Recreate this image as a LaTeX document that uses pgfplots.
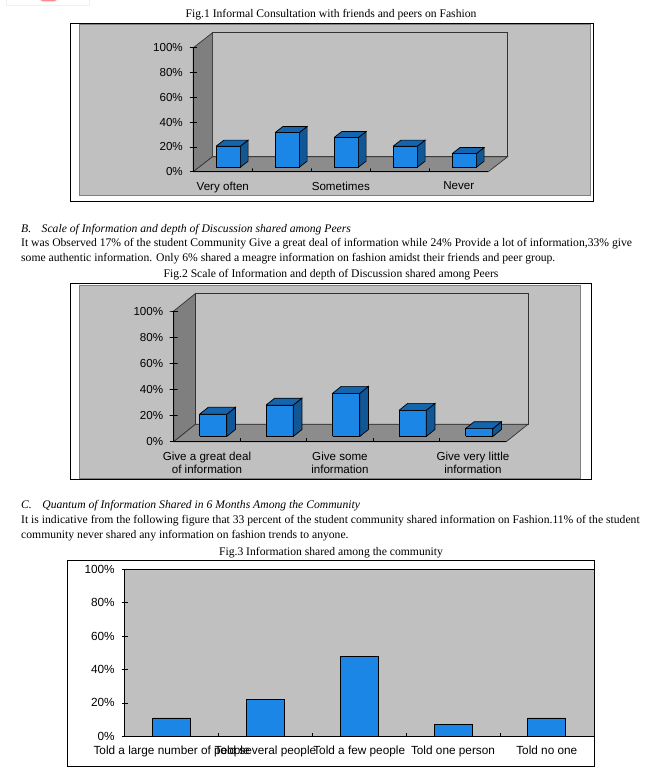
\documentclass[border=0pt]{standalone}
\usepackage{pgfplots}
\pgfplotsset{compat=1.18}
\usepackage{fontspec}
\setmainfont{Liberation Serif}
\newfontfamily\chartfont{Liberation Sans}
\definecolor{barfront}{HTML}{1C86E6}
\definecolor{bartop}{HTML}{1464AE}
\definecolor{barside}{HTML}{115695}
\definecolor{wallgrey}{HTML}{C0C0C0}
\definecolor{sidewall}{HTML}{7F7F7F}
\definecolor{floorgrey}{HTML}{8C8C8C}
\definecolor{framegrey}{HTML}{808080}

% one 3D column: x from #1 to #2, height #3
\newcommand{\column}[3]{
  \addplot3[draw=black, fill=barfront, line width=0.7pt] coordinates {(#1,0.3,0) (#2,0.3,0) (#2,0.3,#3) (#1,0.3,#3) (#1,0.3,0)};
  \addplot3[draw=black, fill=barside, line width=0.7pt] coordinates {(#2,0.3,0) (#2,0.7,0) (#2,0.7,#3) (#2,0.3,#3) (#2,0.3,0)};
  \addplot3[draw=black, fill=bartop, line width=0.7pt] coordinates {(#1,0.3,#3) (#2,0.3,#3) (#2,0.7,#3) (#1,0.7,#3) (#1,0.3,#3)};
}
% walls and floor of the 3D charts
\newcommand{\walls}{
  \addplot3[draw=black!80, fill=wallgrey, line width=0.7pt] coordinates {(0,1,0) (5,1,0) (5,1,100) (0,1,100) (0,1,0)};
  \addplot3[draw=black!80, fill=sidewall, line width=0.7pt] coordinates {(0,0,0) (0,1,0) (0,1,100) (0,0,100) (0,0,0)};
  \addplot3[draw=black!80, fill=floorgrey, line width=0.7pt] coordinates {(0,0,0) (5,0,0) (5,1,0) (0,1,0) (0,0,0)};
  % front edges with their tick marks (flat, in the picture plane)
  \addplot3[draw=black, line width=0.7pt] coordinates {(0,0,0) (1,0,0) (1,0,2.7) (1,0,0) (2,0,0) (2,0,2.7) (2,0,0) (3,0,0) (3,0,2.7) (3,0,0) (4,0,0) (4,0,2.7) (4,0,0) (5,0,0)};
  \addplot3[draw=black, line width=0.7pt] coordinates {(-0.06,0,0) (0.06,0,0) (0,0,0) (0,0,20) (-0.06,0,20) (0.06,0,20) (0,0,20) (0,0,40) (-0.06,0,40) (0.06,0,40) (0,0,40) (0,0,60) (-0.06,0,60) (0.06,0,60) (0,0,60) (0,0,80) (-0.06,0,80) (0.06,0,80) (0,0,80) (0,0,100) (-0.06,0,100) (0.06,0,100)};
}
\pgfplotsset{
  threed/.style={
    clip=false, anchor=origin,
    xmin=0, xmax=5, ymin=0, ymax=1, zmin=0, zmax=100,
    axis lines*=left,
    axis line style={draw=none},
    ytick=\empty,
    ztick={0,20,40,60,80,100},
    zticklabel={\pgfmathprintnumber{\tick}\%},
    major tick length=0bp,
    tick style={draw=none},
    /pgf/number format/assume math mode=true,
    tick label style={font=\chartfont\fontsize{11.6bp}{13.3bp}\selectfont},
    x tick label style={align=center, anchor=north, yshift=-6.5bp},
    z tick label style={anchor=east, xshift=-7bp},
  },
}
\newcommand{\para}[3]{\node[anchor=base west, inner sep=0pt] at (#1bp,-#2bp) {\fontsize{11.65bp}{12bp}\selectfont #3};}
\newcommand{\capt}[3]{\node[anchor=base, inner sep=0pt] at (#1bp,-#2bp) {\fontsize{11.65bp}{12bp}\selectfont #3};}

\begin{document}
\begin{tikzpicture}[x=1bp,y=1bp]
\useasboundingbox (0,0) rectangle (651,-773);

% logo remnant at the page top
\draw[black!6, line width=0.7pt] (6,0) -- (6,-5) -- (89,-5) -- (89,0);
\fill[red!45!white] (40,0) -- (57,0) -- (54,-1.5) -- (43,-1.5) -- cycle;

% chart frames
\draw[black, line width=0.8pt, fill=white] (70.5,-23.5) rectangle (593,-201.5);
\draw[framegrey, line width=0.8pt, fill=wallgrey] (79.5,-24) rectangle (590,-195);
\draw[black, line width=0.8pt, fill=white] (70.3,-283.3) rectangle (591.4,-479.3);
\draw[framegrey, line width=0.8pt, fill=wallgrey] (79.3,-285.3) rectangle (580,-478.7);
\draw[black, line width=0.8pt, fill=white] (67.7,-560.3) rectangle (594.8,-766.3);

% text
\capt{331}{17.5}{Fig.1 Informal Consultation with friends and peers on Fashion}
\para{21}{232}{\textit{B.\hspace{0.9em}Scale of Information and depth of Discussion shared among Peers}}
\para{21}{246}{It was Observed 17\% of the student Community Give a great deal of information while 24\% Provide a lot of information,33\% give}
\para{21}{261}{some authentic information. Only 6\% shared a meagre information on fashion amidst their friends and peer group.}
\capt{331}{277.5}{Fig.2 Scale of Information and depth of Discussion shared among Peers}
\para{21}{508}{\textit{C.\hspace{0.9em}Quantum of Information Shared in 6 Months Among the Community}}
\para{21}{523}{It is indicative from the following figure that 33 percent of the student community shared information on Fashion.11\% of the student}
\para{21}{538}{community never shared any information on fashion trends to anyone.}
\capt{331}{555}{Fig.3 Information shared among the community}

% Fig.1
\begin{axis}[threed, at={(193.3bp,-171.7bp)},
  x={(59bp,0bp)}, y={(19.3bp,15bp)}, z={(0bp,1.24bp)},
  xtick={0.5,2.5,4.5}, xticklabels={Very often,Sometimes,Never}]
  \walls
  \column{0.29}{0.70}{17}
  \column{1.29}{1.70}{28}
  \column{2.29}{2.70}{24}
  \column{3.29}{3.70}{17}
  \column{4.29}{4.70}{11}
\end{axis}

% Fig.2
\begin{axis}[threed, at={(173.7bp,-441.7bp)},
  x={(66.5bp,0bp)}, y={(21.7bp,17.4bp)}, z={(0bp,1.307bp)},
  xtick={0.5,2.5,4.5},
  xticklabels={{Give a great deal\\of information},{Give some\\information},{Give very little\\information}}]
  \walls
  \column{0.29}{0.70}{17}
  \column{1.29}{1.70}{24}
  \column{2.29}{2.70}{33}
  \column{3.29}{3.70}{20}
  \column{4.29}{4.70}{6}
\end{axis}

% Fig.3
\begin{axis}[at={(124.7bp,-736.3bp)}, anchor=south west, scale only axis,
  width=469bp, height=167bp,
  xmin=-0.5, xmax=4.5, ymin=0, ymax=100,
  axis background/.style={fill=wallgrey},
  axis x line*=bottom, axis y line*=left,
  axis line style={black, line width=0.7pt, -},
  ybar, bar width=38bp,
  xtick={0,1,2,3,4},
  xticklabels={Told a large number of people,Told several people,Told a few people,Told one person,Told no one},
  minor xtick={0.5,1.5,2.5,3.5},
  major x tick style={draw=none},
  ytick={0,20,40,60,80,100},
  yticklabel={\pgfmathprintnumber{\tick}\%},
  xtick align=inside, ytick align=center,
  major tick length=6bp, minor tick length=3bp,
  minor x tick style={black},
  tick style={black, line width=0.7pt},
  /pgf/number format/assume math mode=true,
  tick label style={font=\chartfont\fontsize{11.8bp}{13bp}\selectfont},
  x tick label style={yshift=-6.5bp},
  y tick label style={xshift=-3.5bp},
  clip=false]
  \addplot[draw=black, fill=barfront, line width=0.7pt] coordinates {(0,11) (1,22) (2,48) (3,7) (4,11)};
\end{axis}
\draw[black, line width=0.7pt] (124.7,-569.3) -- (593.7,-569.3);
\end{tikzpicture}
\end{document}
